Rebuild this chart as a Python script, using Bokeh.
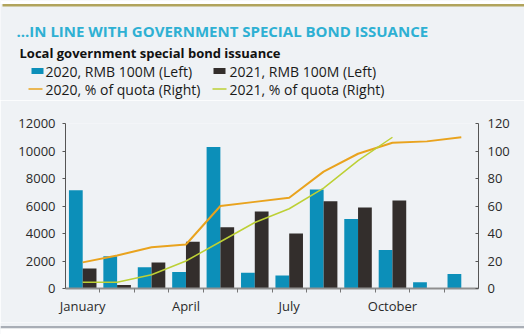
from bokeh.plotting import figure
from bokeh.layouts import column
from bokeh.models import (ColumnDataSource, Range1d, LinearAxis, FixedTicker, Label,
                          BoxAnnotation)
from bokeh.transform import dodge
from bokeh.embed import file_html
from bokeh.resources import INLINE

# ---------------- data ----------------
months = ["Jan", "Feb", "Mar", "Apr", "May", "Jun", "Jul", "Aug", "Sep", "Oct", "Nov", "Dec"]
month_idx = list(range(12))
x_tick_labels = {0: "January", 3: "April", 6: "July", 9: "October"}
issuance_2020 = [7150, 2350, 1550, 1200, 10300, 1150, 950, 7200, 5050, 2800, 450, 1050]
issuance_2021 = [1450, 250, 1900, 3400, 4450, 5600, 4000, 6350, 5900, 6400, float("nan"), float("nan")]
quota_2020 = [19, 24, 30, 32, 60, 63, 66, 85, 98, 106, 107, 110]
quota_2021 = [4.5, 4.5, 10, 20, 34, 48, 58, 73, 93, 110]
left_ticks = [0, 2000, 4000, 6000, 8000, 10000, 12000]
right_ticks = [0, 20, 40, 60, 80, 100, 120]

title_text = "...IN LINE WITH GOVERNMENT SPECIAL  BOND ISSUANCE"
subtitle_text = "Local government special bond issuance"
lbl_bar20 = "2020, RMB 100M (Left)"
lbl_bar21 = "2021, RMB 100M (Left)"
lbl_line20 = "2020, % of quota (Right)"
lbl_line21 = "2021, % of quota (Right)"

# ---------------- style ----------------
W = 524
HEAD_H = 100
FOOT_H = 12
MAIN_H = 334 - HEAD_H - FOOT_H
FL, FR, FT, FB = 65, 478, 123, 288  # frame in page pixels
BG = "#eff2f5"
BLUE = "#0c8fb9"
DARK = "#332e2c"
ORANGE = "#e9a31e"
GREEN = "#bdd035"
TITLE_C = "#2eb0d3"
TXT = "#1a1a1a"
FONT = "Open Sans"


def bare(h, y0):
    f = figure(width=W, height=h, x_range=Range1d(0, W), y_range=Range1d(y0 + h, y0),
               x_axis_type=None, y_axis_type=None, min_border=0,
               min_border_left=0, min_border_right=0, min_border_top=0, min_border_bottom=0,
               output_backend="svg", toolbar_location=None)
    f.frame_align = False
    f.background_fill_color = BG
    f.border_fill_color = BG
    f.outline_line_color = None
    f.xgrid.visible = False
    f.ygrid.visible = False
    return f


# ---------------- header ----------------
head = bare(HEAD_H, 0)
head.add_layout(BoxAnnotation(left=0, right=W, top=0, bottom=3.5, fill_color="#ffffff",
                              fill_alpha=1, line_color=None))
head.add_layout(BoxAnnotation(left=2, right=W, top=3.5, bottom=6, fill_color="#b1a45c",
                              fill_alpha=1, line_color=None))
head.add_layout(Label(x=16, y=30, text=title_text, text_baseline="middle",
                      text_font=FONT, text_font_style="bold", text_font_size="15px",
                      text_color=TITLE_C))
head.add_layout(Label(x=19, y=52, text=subtitle_text, text_baseline="middle",
                      text_font=FONT, text_font_style="bold", text_font_size="13px",
                      text_color="#111111"))

# legend keys
head.add_layout(BoxAnnotation(left=31, right=43, top=67.5, bottom=73.5, fill_color=BLUE,
                              fill_alpha=1, line_color=None))
head.add_layout(BoxAnnotation(left=213, right=225, top=67.5, bottom=73.5, fill_color=DARK,
                              fill_alpha=1, line_color=None))
head.segment(x0=[28], y0=[88.5], x1=[42], y1=[88.5], line_color=ORANGE, line_width=1.6)
head.segment(x0=[212], y0=[88.5], x1=[226], y1=[88.5], line_color=GREEN, line_width=1.6)
for (lx, ly, txt) in [(45, 70.5, lbl_bar20), (229, 70.5, lbl_bar21),
                      (45, 88.5, lbl_line20), (229, 88.5, lbl_line21)]:
    head.add_layout(Label(x=lx, y=ly, text=txt, text_baseline="middle", text_font=FONT,
                          text_font_size="14px", text_color=TXT))

# ---------------- main chart ----------------
p = figure(width=W, height=MAIN_H, x_range=Range1d(-0.5, 11.5), y_range=Range1d(0, 12000),
           min_border_left=FL, min_border_right=W - FR, min_border_top=FT - HEAD_H,
           min_border_bottom=(HEAD_H + MAIN_H) - FB, output_backend="svg",
           toolbar_location=None)
p.frame_align = False
p.extra_y_ranges = {"pct": Range1d(0, 120)}
p.background_fill_color = BG
p.border_fill_color = BG
p.outline_line_color = None
p.xgrid.visible = False
p.ygrid.visible = False

src = ColumnDataSource(dict(x=month_idx, a=issuance_2020, b=issuance_2021))
p.vbar(x=dodge("x", -0.2, range=p.x_range), top="a", width=0.4, source=src,
       fill_color=BLUE, line_color=None)
p.vbar(x=dodge("x", 0.2, range=p.x_range), top="b", width=0.4, source=src,
       fill_color=DARK, line_color=None)
p.line(month_idx, quota_2020, y_range_name="pct", line_color=ORANGE, line_width=2)
p.line(month_idx[:len(quota_2021)], quota_2021, y_range_name="pct",
       line_color=GREEN, line_width=1.5)

# x axis
xa = p.xaxis[0]
xa.ticker = FixedTicker(ticks=list(x_tick_labels.keys()),
                        minor_ticks=[i + 0.5 for i in month_idx[:-1]])
xa.major_label_overrides = x_tick_labels
xa.major_tick_out = 0
xa.major_tick_in = 0
xa.minor_tick_out = 4
xa.minor_tick_in = 0
xa.minor_tick_line_color = "#777777"
xa.axis_line_color = "#8f8f8f"
xa.axis_line_width = 2
xa.major_label_standoff = 4
xa.major_label_text_font = FONT
xa.major_label_text_font_size = "13px"
xa.major_label_text_color = "#2a2a2a"

# left axis
ya = p.yaxis[0]
ya.ticker = FixedTicker(ticks=left_ticks)
ya.major_tick_out = 3
ya.major_tick_in = 0
ya.minor_tick_out = 0
ya.minor_tick_in = 0
ya.axis_line_color = "#555555"
ya.major_tick_line_color = "#555555"
ya.major_label_standoff = 7
ya.major_label_text_font = FONT
ya.major_label_text_font_size = "13px"
ya.major_label_text_color = "#2a2a2a"

# right axis
ra = LinearAxis(y_range_name="pct", ticker=FixedTicker(ticks=right_ticks))
ra.major_tick_out = 0
ra.major_tick_in = 3
ra.minor_tick_out = 0
ra.minor_tick_in = 0
ra.axis_line_color = "#555555"
ra.major_tick_line_color = "#555555"
ra.major_label_standoff = 9
ra.major_label_text_font = FONT
ra.major_label_text_font_size = "13px"
ra.major_label_text_color = "#2a2a2a"
p.add_layout(ra, "right")

# ---------------- footer ----------------
foot = bare(FOOT_H, 334 - FOOT_H)
foot.add_layout(BoxAnnotation(left=0, right=W, top=325.5, bottom=328, fill_color="#a9aeb6",
                              fill_alpha=1, line_color=None))
foot.add_layout(BoxAnnotation(left=0, right=W, top=328, bottom=334, fill_color="#ffffff",
                              fill_alpha=1, line_color=None))

page = column(head, p, foot, spacing=0)
open("out.html", "w").write(file_html(page, INLINE))
